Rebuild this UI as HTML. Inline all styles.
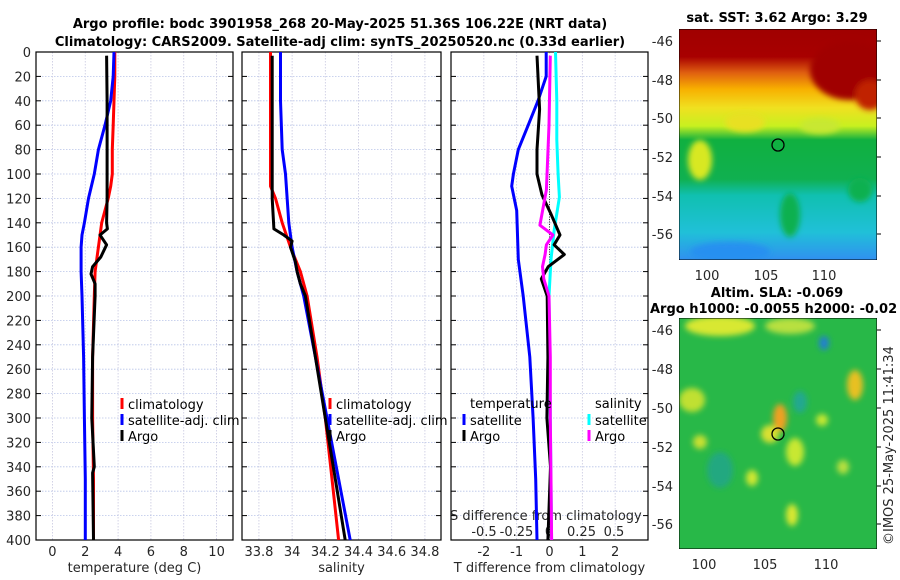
<!DOCTYPE html>
<html><head><meta charset="utf-8">
<style>
body{margin:0;background:#fff;}
svg{display:block;font-family:"DejaVu Sans","Liberation Sans",sans-serif;}
.tk{font-size:13px;fill:#262626;}
.ttl{font-size:13px;font-weight:bold;fill:#000;}
.lg{font-size:13px;fill:#000;}
</style></head>
<body>
<svg id="fig" width="900" height="580" viewBox="0 0 900 580">
<defs>
<linearGradient id="sstg" x1="0" y1="0" x2="0" y2="1">
<stop offset="0" stop-color="#a00000"/><stop offset="0.12" stop-color="#a80000"/>
<stop offset="0.19" stop-color="#e06010"/><stop offset="0.26" stop-color="#f8b000"/>
<stop offset="0.34" stop-color="#f0e020"/><stop offset="0.42" stop-color="#c8f020"/>
<stop offset="0.48" stop-color="#10b040"/><stop offset="0.65" stop-color="#10b050"/>
<stop offset="0.72" stop-color="#10c0b0"/><stop offset="0.88" stop-color="#20c0d8"/>
<stop offset="1" stop-color="#3090f0"/></linearGradient>
<filter id="blur" x="-20%" y="-20%" width="140%" height="140%"><feGaussianBlur stdDeviation="3"/></filter>
<clipPath id="c1"><rect x="679" y="29" width="198" height="231"/></clipPath>
<clipPath id="c2"><rect x="679" y="318" width="198" height="231"/></clipPath>
</defs>
<text class="ttl" x="340" y="28" text-anchor="middle">Argo profile: bodc 3901958_268 20-May-2025 51.36S 106.22E (NRT data)</text>
<text class="ttl" x="340" y="46" text-anchor="middle">Climatology: CARS2009. Satellite-adj clim: synTS_20250520.nc (0.33d earlier)</text>
<g id="plots"></g>

<g>
<g clip-path="url(#c1)">
<rect x="679" y="29" width="198" height="231" fill="url(#sstg)"/>
<g filter="url(#blur)">
<ellipse cx="850" cy="70" rx="40" ry="30" fill="#a00000"/>
<ellipse cx="870" cy="95" rx="15" ry="15" fill="#c02000"/>
<ellipse cx="700" cy="160" rx="12" ry="20" fill="#d8e820"/>
<ellipse cx="745" cy="122" rx="20" ry="10" fill="#e8e020"/>
<ellipse cx="820" cy="126" rx="20" ry="8" fill="#c8e830"/>
<ellipse cx="790" cy="215" rx="10" ry="22" fill="#10b050"/>
<ellipse cx="860" cy="190" rx="12" ry="12" fill="#10b050"/>
<ellipse cx="730" cy="252" rx="40" ry="10" fill="#2890f0"/>
</g>
<rect x="679" y="29" width="198" height="231" fill="none" stroke="#000"/>
</g>
<ellipse cx="778" cy="145" rx="6" ry="6" fill="none" stroke="#000" stroke-width="1.3"/>
<text class="ttl" x="777" y="22" text-anchor="middle">sat. SST: 3.62 Argo: 3.29</text>
</g>
<g>
<g clip-path="url(#c2)">
<rect x="679" y="318" width="198" height="231" fill="#28b848"/>
<g filter="url(#blur)">
<ellipse cx="720" cy="326" rx="35" ry="10" fill="#d8e830"/>
<ellipse cx="790" cy="326" rx="25" ry="8" fill="#b8e040"/>
<ellipse cx="855" cy="385" rx="8" ry="15" fill="#e8c020"/>
<ellipse cx="780" cy="418" rx="7" ry="14" fill="#f0a020"/>
<ellipse cx="770" cy="434" rx="9" ry="9" fill="#d8e030"/>
<ellipse cx="692" cy="400" rx="13" ry="12" fill="#c0e030"/>
<ellipse cx="700" cy="442" rx="7" ry="7" fill="#c8e030"/>
<ellipse cx="795" cy="452" rx="9" ry="14" fill="#c8e830"/>
<ellipse cx="792" cy="515" rx="6" ry="11" fill="#d8e830"/>
<ellipse cx="752" cy="478" rx="6" ry="8" fill="#d0e830"/>
<ellipse cx="822" cy="420" rx="6" ry="6" fill="#c8e830"/>
<ellipse cx="843" cy="467" rx="6" ry="7" fill="#b8e040"/>
<ellipse cx="824" cy="343" rx="5" ry="7" fill="#2080d0"/>
<ellipse cx="720" cy="470" rx="13" ry="18" fill="#20a880"/>
<ellipse cx="800" cy="402" rx="7" ry="11" fill="#20a890"/>
</g>
<rect x="679" y="318" width="198" height="231" fill="none" stroke="#000"/>
</g>
<ellipse cx="778" cy="434" rx="6" ry="6" fill="none" stroke="#000" stroke-width="1.3"/>
<text class="ttl" x="777" y="297" text-anchor="middle">Altim. SLA: -0.069</text>
<text class="ttl" x="650" y="313">Argo h1000: -0.0055 h2000: -0.02</text>
</g>
<text class="tk" transform="translate(893,545) rotate(-90)">©IMOS 25-May-2025 11:41:34</text>
</svg>
<script>
// ---- data ----
const depthTicks = [0,20,40,60,80,100,120,140,160,180,200,220,240,260,280,300,320,340,360,380,400];
const tempTicks = [0,2,4,6,8,10];
const salTicks = [33.8,34,34.2,34.4,34.6,34.8];
const tdiffTicks = [-2,-1,0,1,2];
const sdiffTicks = [-0.5,-0.25,0,0.25,0.5];

const climTDepth = [0,20,40,60,80,100,110,120,140,160,180,200,250,300,350,400];
const climTemp   = [3.8,3.8,3.75,3.7,3.65,3.65,3.55,3.4,3.0,2.8,2.6,2.55,2.45,2.45,2.5,2.5];
const satTDepth  = [0,20,40,60,80,100,120,140,150,160,180,200,250,300,350,400];
const satTemp    = [3.75,3.7,3.55,3.2,2.8,2.55,2.2,1.95,1.8,1.75,1.75,1.8,1.9,1.95,2.0,2.0];
const argoTDepth = [3,40,80,120,140,145,150,158,168,176,182,190,200,250,300,340,345,400];
const argoTemp   = [3.3,3.33,3.33,3.33,3.3,3.35,2.9,3.3,2.95,2.45,2.35,2.6,2.6,2.45,2.4,2.55,2.45,2.5];

const climSDepth = [0,40,80,110,120,140,160,180,200,250,300,350,400];
const climSal    = [33.87,33.87,33.87,33.87,33.9,33.94,33.99,34.05,34.09,34.15,34.2,34.24,34.28];
const satSDepth  = [0,40,80,100,140,160,180,200,250,300,350,400];
const satSal     = [33.93,33.93,33.94,33.96,33.98,34.0,34.03,34.07,34.14,34.21,34.28,34.35];
const argoSDepth = [3,60,120,145,150,155,160,172,180,190,200,250,300,350,400];
const argoSal    = [33.88,33.88,33.88,33.89,33.95,34.0,33.99,34.02,34.03,34.05,34.08,34.14,34.2,34.26,34.32];

const satTDDepth = [0,20,40,60,80,100,110,130,170,200,250,300,350,400];
const satTDiff   = [-0.1,-0.1,-0.35,-0.65,-0.95,-1.1,-1.15,-1.0,-0.95,-0.8,-0.6,-0.5,-0.42,-0.38];
const argoTDDepth= [3,47,80,100,117,133,150,158,166,176,186,200,250,300,340,400];
const argoTDiff  = [-0.38,-0.3,-0.38,-0.38,-0.23,0.05,0.32,0.14,0.45,-0.04,-0.25,-0.07,-0.05,-0.08,0.03,-0.05];
const satSDDepth = [0,40,72,100,119,146,170,200,300,400];
const satSDiff   = [0.05,0.06,0.06,0.07,0.08,0.04,0.015,0.0,0.01,0.02];
const argoSDDepth= [3,60,113,142,150,158,166,176,186,200,250,300,350,400];
const argoSDiff  = [0.01,0.0,-0.02,-0.07,0.03,-0.02,-0.03,-0.05,-0.04,0.0,0.01,0.01,0.015,0.02];

// ---- layout ----
const NS = 'http://www.w3.org/2000/svg';
const root = document.getElementById('plots');
const Y0 = 52, Y1 = 540;
const yScale = d => Y0 + (d/400)*(Y1-Y0);
function mk(tag, attrs, parent){
  const e = document.createElementNS(NS, tag);
  for (const k in attrs) e.setAttribute(k, attrs[k]);
  (parent||root).appendChild(e);
  return e;
}
const panels = [
  {name:'temperature-panel', x0:36, x1:233, dmin:-1, dmax:11, ticks:tempTicks, fmt:v=>String(v), label:'temperature (deg C)'},
  {name:'salinity-panel', x0:242, x1:441, dmin:33.698, dmax:34.897, ticks:salTicks, fmt:v=>String(v), label:'salinity'},
  {name:'difference-panel', x0:451, x1:648, dmin:-3, dmax:3, ticks:tdiffTicks, fmt:v=>String(v), label:'T difference from climatology'}
];
panels.forEach((p, i) => {
  p.sx = v => p.x0 + (v - p.dmin)/(p.dmax - p.dmin)*(p.x1 - p.x0);
  const g = mk('g', {});
  
  
  p.g = g;
  depthTicks.forEach(d => {
    const l = mk('line', {x1:p.x0, x2:p.x1, y1:yScale(d), y2:yScale(d), stroke:'#b8c4e8', 'stroke-width':0.8, 'stroke-dasharray':'1.5,1.5'}, g);
    
    
    mk('line', {x1:p.x0, x2:p.x0+5, y1:yScale(d), y2:yScale(d), stroke:'#000'}, g);
    mk('line', {x1:p.x1-5, x2:p.x1, y1:yScale(d), y2:yScale(d), stroke:'#000'}, g);
  });
  p.ticks.forEach(v => {
    const x = p.sx(v);
    const l = mk('line', {x1:x, x2:x, y1:Y0, y2:Y1, stroke:'#c8c8e0', 'stroke-width':0.8, 'stroke-dasharray':'1.5,1.5'}, g);
    
    
    const t = mk('text', {x:x, y:556, 'text-anchor':'middle', class:'tk'}, g);
    t.textContent = p.fmt(v);
    
    
  });
  const fr = mk('rect', {x:p.x0, y:Y0, width:p.x1-p.x0, height:Y1-Y0, fill:'none', stroke:'#000', 'stroke-width':1.2}, g);
  
  
  const xl = mk('text', {x:(p.x0+p.x1)/2, y:572, 'text-anchor':'middle', class:'tk'}, g);
  xl.textContent = p.label;
  
  
});
depthTicks.forEach(d => {
  const t = mk('text', {x:31, y:yScale(d)+5, 'text-anchor':'end', class:'tk'});
  t.textContent = d;
  
  
});
const sdx = v => 549 + v*130;
const sdt = mk('text', {x:450, y:520, class:'tk'});
sdt.textContent = 'S difference from climatology';


sdiffTicks.forEach(v => {
  const t = mk('text', {x:sdx(v), y:536, 'text-anchor':'middle', class:'tk'});
  t.textContent = String(v);
  
  
});
const zl = mk('line', {x1:panels[2].sx(0), x2:panels[2].sx(0), y1:yScale(100), y2:Y1, stroke:'#333', 'stroke-width':1, 'stroke-dasharray':'1,1.5'});



function line(depths, vals, sx, color, name){
  const pts = depths.map((d,i) => sx(vals[i]).toFixed(1)+','+yScale(d).toFixed(1)).join(' ');
  const e = mk('polyline', {points:pts, fill:'none', stroke:color, 'stroke-width':3, 'stroke-linejoin':'round'});
  
  
}
const P = panels;
line(climTDepth, climTemp, P[0].sx, '#ff0000', 'temp-climatology-line');
line(satTDepth, satTemp, P[0].sx, '#0000ff', 'temp-satellite-line');
line(argoTDepth, argoTemp, P[0].sx, '#000000', 'temp-argo-line');
line(climSDepth, climSal, P[1].sx, '#ff0000', 'sal-climatology-line');
line(satSDepth, satSal, P[1].sx, '#0000ff', 'sal-satellite-line');
line(argoSDepth, argoSal, P[1].sx, '#000000', 'sal-argo-line');
line(satSDDepth, satSDiff, sdx, '#00ffff', 'sdiff-satellite-line');
line(satTDDepth, satTDiff, P[2].sx, '#0000ff', 'tdiff-satellite-line');
line(argoTDDepth, argoTDiff, P[2].sx, '#000000', 'tdiff-argo-line');
line(argoSDDepth, argoSDiff, sdx, '#ff00ff', 'sdiff-argo-line');

function legend(x, y, color, label, name){
  if (color){
    const m = mk('line', {x1:x, x2:x, y1:y-11, y2:y, stroke:color, 'stroke-width':3});
    
    
  }
  const t = mk('text', {x:x+6, y:y, class:'lg'});
  t.textContent = label;
  
  
}
legend(122, 409, '#ff0000', 'climatology', 'legend-climatology');
legend(122, 425, '#0000ff', 'satellite-adj. clim', 'legend-satellite');
legend(122, 441, '#000', 'Argo', 'legend-argo');
legend(330, 409, '#ff0000', 'climatology', 'legend-sal-climatology');
legend(330, 425, '#0000ff', 'satellite-adj. clim', 'legend-sal-satellite');
legend(330, 441, '#000', 'Argo', 'legend-sal-argo');
legend(464, 408, null, 'temperature', 'legend-temperature-heading');
legend(464, 425, '#0000ff', 'satellite', 'legend-t-satellite');
legend(464, 441, '#000', 'Argo', 'legend-t-argo');
legend(589, 408, null, 'salinity', 'legend-salinity-heading');
legend(589, 425, '#00ffff', 'satellite', 'legend-s-satellite');
legend(589, 441, '#ff00ff', 'Argo', 'legend-s-argo');

const fig = document.getElementById('fig');
function mapAxes(yBot, latPos, lonPos, name){
  const lats = [-46,-48,-50,-52,-54,-56];
  lats.forEach((la,i) => {
    const t = mk('text', {x:673, y:latPos[i]+5, 'text-anchor':'end', class:'tk'}, fig);
    t.textContent = la;
    
    
    mk('line', {x1:877, x2:881, y1:latPos[i], y2:latPos[i], stroke:'#000'}, fig);
  });
  [100,105,110].forEach((lo,i) => {
    const t = mk('text', {x:lonPos[i], y:yBot+20, 'text-anchor':'middle', class:'tk'}, fig);
    t.textContent = lo;
    
    
  });
}
mapAxes(260, [41,80,118,157,196,234], [707,766,824], 'sst-map');
mapAxes(549, [330,369,408,447,486,524], [704,765,826], 'sla-map');
</script>
</body></html>
